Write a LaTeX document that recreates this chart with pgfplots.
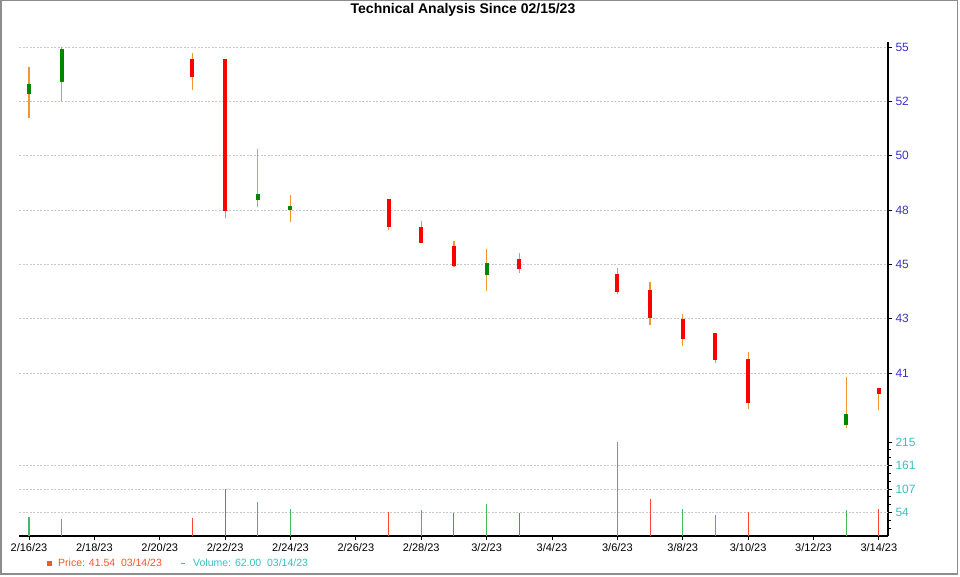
\documentclass[border=0pt]{standalone}
\usepackage{pgfplots}
\pgfplotsset{compat=1.18}
\usepackage{pgfplotstable}
\usepackage{fontspec}
\setmainfont{Liberation Sans}
\definecolor{upc}{RGB}{0,135,0}
\definecolor{downc}{RGB}{255,0,0}
\definecolor{wickc}{RGB}{242,150,50}
\definecolor{vup}{RGB}{70,185,100}
\definecolor{vdown}{RGB}{255,70,50}
\definecolor{pricelbl}{RGB}{60,50,200}
\definecolor{vollbl}{RGB}{60,190,190}
\definecolor{legprice}{RGB}{250,85,40}
\definecolor{gridc}{RGB}{200,200,200}

% x = trading day index (0 = 2/16/23)
\pgfplotstableread{
x open high low close
0 52.60 53.77 51.61 52.99
1 53.11 54.61 52.33 54.44
7 48.12 50.28 47.84 48.32
8 47.70 48.33 47.20 47.81
14 44.95 46.05 44.28 45.40
25 38.58 40.62 38.48 39.02
}\candlesup
\pgfplotstableread{
x open high low close
5 54.01 54.36 52.78 53.32
6 54.05 54.05 47.35 47.66
11 48.12 48.12 46.85 46.99
12 46.92 47.23 46.31 46.31
13 46.12 46.39 45.27 45.34
15 45.57 45.87 45.02 45.19
18 44.92 45.23 44.13 44.24
19 44.24 44.64 42.82 43.11
20 43.04 43.30 41.95 42.25
21 42.44 42.44 41.23 41.35
22 41.34 41.67 39.29 39.52
26 40.12 40.12 39.23 39.91
}\candlesdown
\pgfplotstableread{
x vol
0 42.7
1 38.2
7 77.8
8 61.8
12 59.5
14 73.2
18 215
20 61.8
21 48.8
25 59.5
}\volup
\pgfplotstableread{
x vol
5 40.4
6 107.5
11 55.6
13 53.3
15 53.3
19 84.6
22 55.6
26 61.8
}\voldown

\begin{document}
\begin{tikzpicture}
\path[use as bounding box] (0,0) rectangle (960pt,576pt);
\draw[gray!90, line width=1.5pt] (0.75pt,2pt) rectangle (957.5pt,575.25pt);
\node[font=\bfseries\fontsize{14}{16}\selectfont] at (463pt,566pt) {Technical Analysis Since 02/15/23};

\begin{axis}[
  at={(19pt,144pt)}, anchor=south west, scale only axis,
  width=869pt, height=390pt,
  xmin=-0.306, xmax=26.28, ymin=38.30, ymax=54.81,
  axis x line=none, axis y line*=right,
  y axis line style={line width=1.6pt, black},
  xtick=\empty,
  ytick={40.8,43.1,45.4,47.7,50.0,52.3,54.6},
  yticklabels={41,43,45,48,50,52,55},
  yticklabel style={text=pricelbl, font=\fontsize{12}{14}\selectfont},
  /pgf/number format/assume math mode=true,
  tick align=outside, major tick length=4pt,
  tick style={black, line width=0.8pt},
  ymajorgrids,
  major grid style={gridc, dash pattern=on 2pt off 1.5pt, line width=0.6pt},
]
% wicks
\addplot[draw=none, mark=none, forget plot,
  error bars/.cd, y dir=plus, y explicit, error mark=none,
  error bar style={draw=wickc, line width=1.2pt}]
  table[x=x, y=low, y error expr=\thisrow{high}-\thisrow{low}] {\candlesup};
\addplot[draw=none, mark=none, forget plot,
  error bars/.cd, y dir=plus, y explicit, error mark=none,
  error bar style={draw=wickc, line width=1.2pt}]
  table[x=x, y=low, y error expr=\thisrow{high}-\thisrow{low}] {\candlesdown};
% bodies
\addplot[draw=none, mark=none, forget plot,
  error bars/.cd, y dir=plus, y explicit, error mark=none,
  error bar style={draw=upc, line width=4pt, line cap=butt}]
  table[x=x, y=open, y error expr=\thisrow{close}-\thisrow{open}+0.06] {\candlesup};
\addplot[draw=none, mark=none, forget plot,
  error bars/.cd, y dir=plus, y explicit, error mark=none,
  error bar style={draw=downc, line width=4pt, line cap=butt}]
  table[x=x, y=close, y error expr=\thisrow{open}-\thisrow{close}+0.06] {\candlesdown};
\end{axis}

\begin{axis}[
  at={(19pt,40pt)}, anchor=south west, scale only axis,
  width=869pt, height=104pt,
  xmin=-0.306, xmax=26.28, ymin=0, ymax=237.9,
  axis x line*=bottom, axis y line*=right,
  x axis line style={line width=1.6pt, black},
  y axis line style={line width=1.6pt, black},
  xtick={0,2,...,26},
  xticklabels={2/16/23,2/18/23,2/20/23,2/22/23,2/24/23,2/26/23,2/28/23,3/2/23,3/4/23,3/6/23,3/8/23,3/10/23,3/12/23,3/14/23},
  xticklabel style={font=\fontsize{11}{13}\selectfont, text=black},
  ytick={53.75,107.5,161.25,215},
  yticklabels={54,107,161,215},
  minor ytick={17.9,35.8,71.7,89.6,125.4,143.3,179.2,197.1},
  yticklabel style={text=vollbl, font=\fontsize{12}{14}\selectfont},
  /pgf/number format/assume math mode=true,
  tick align=outside, major tick length=4pt, minor tick length=2.5pt,
  tick style={black, line width=0.8pt},
  extra y ticks={53.75,107.5,161.25},
  extra y tick labels={},
  extra y tick style={ymajorgrids=true, major tick length=0pt},
  major grid style={gridc, dash pattern=on 2pt off 1.5pt, line width=0.6pt},
]
\addplot[ycomb, draw=vup, line width=1.1pt, mark=none, forget plot] table[x=x, y=vol] {\volup};
\addplot[ycomb, draw=vdown, line width=1.1pt, mark=none, forget plot] table[x=x, y=vol] {\voldown};
\end{axis}

% legend
\fill[legprice] (47pt,10.5pt) rectangle (52pt,15.5pt);
\node[anchor=west, inner sep=0pt, text=legprice, font=\fontsize{10.5}{12}\selectfont] at (58pt,13pt) {Price: 41.54\ \ 03/14/23};
\draw[vollbl, line width=1pt] (181pt,13pt) -- (185pt,13pt);
\node[anchor=west, inner sep=0pt, text=vollbl, font=\fontsize{10.5}{12}\selectfont] at (193pt,13pt) {Volume: 62.00\ \ 03/14/23};
\end{tikzpicture}
\end{document}
